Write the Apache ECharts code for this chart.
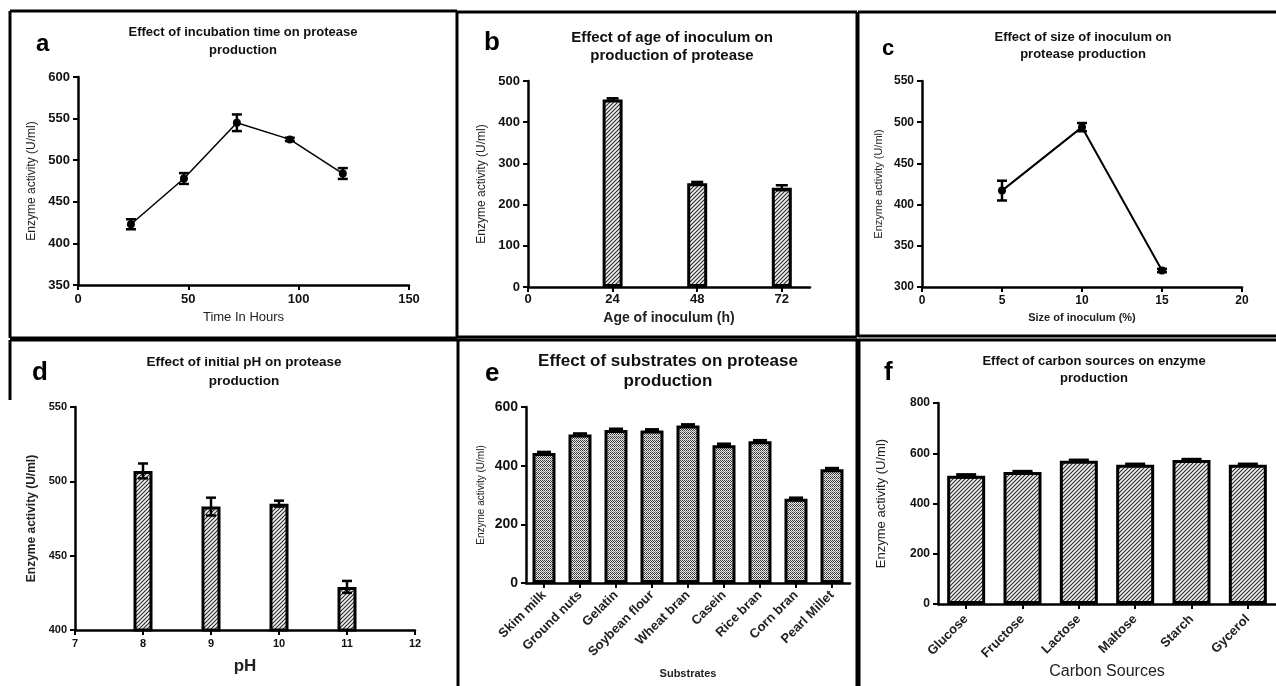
<!DOCTYPE html>
<html>
<head>
<meta charset="utf-8">
<script src="https://cdn.jsdelivr.net/npm/echarts@6/dist/echarts.min.js"></script>
<style>
  html, body { margin: 0; padding: 0; background: #fff; }
  #main { width: 1276px; height: 686px; }
</style>
</head>
<body>
<div id="main"></div>
<script>
// a - incubation time
const hoursX = [24, 48, 72, 96, 120];
const hoursY = [423, 478, 545, 525, 484];
const hoursErr = [6, 6.5, 10, 2, 6.5];
// b - age of inoculum
const ageX = [24, 48, 72];
const ageY = [455, 252, 241];
const ageErr = [3, 3, 6];
const ageTicks = [0, 24, 48, 72];
// c - size of inoculum
const sizeX = [5, 10, 15];
const sizeY = [417, 494, 320];
const sizeErr = [12, 5, 2];
// d - initial pH
const phX = [8, 9, 10, 11];
const phY = [507, 483, 485, 429];
const phErr = [5, 6, 2, 4];
// e - substrates
const substrates = ['Skim milk', 'Ground nuts', 'Gelatin', 'Soybean flour', 'Wheat bran', 'Casein', 'Rice bran', 'Corn bran', 'Pearl Millet'];
const substrateY = [443, 506, 522, 520, 537, 470, 483, 287, 388];
const substrateErr = [3, 3, 3, 3, 3, 4, 3, 3, 3];
// f - carbon sources
const carbons = ['Glucose', 'Fructose', 'Lactose', 'Maltose', 'Starch', 'Gycerol'];
const carbonY = [510, 525, 570, 554, 573, 554];
const carbonErr = [5, 3, 3, 3, 3, 3];

const FONT = "'Liberation Sans', Arial, sans-serif";

// fill patterns
function hatch () {
  const c = document.createElement('canvas');
  c.width = 4; c.height = 4;
  const g = c.getContext('2d');
  g.fillStyle = '#f2f2f2';
  g.fillRect(0, 0, 4, 4);
  g.strokeStyle = '#2a2a2a';
  g.lineWidth = 1.1;
  g.beginPath();
  g.moveTo(-1, 5); g.lineTo(5, -1);
  g.moveTo(-1, 1); g.lineTo(1, -1);
  g.moveTo(3, 5); g.lineTo(5, 3);
  g.stroke();
  return c;
}
function stipple () {
  const c = document.createElement('canvas');
  c.width = 4; c.height = 4;
  const g = c.getContext('2d');
  g.fillStyle = '#e6e6e6';
  g.fillRect(0, 0, 4, 4);
  g.fillStyle = '#3a3a3a';
  g.fillRect(0, 0, 1, 1); g.fillRect(2, 0, 1, 1);
  g.fillRect(1, 1, 1, 1); g.fillRect(3, 1, 1, 1);
  g.fillRect(0, 2, 1, 1); g.fillRect(2, 2, 1, 1);
  g.fillStyle = '#888';
  g.fillRect(1, 3, 1, 1); g.fillRect(3, 3, 1, 1);
  return c;
}
const hatchFill = { image: hatch(), repeat: 'repeat' };
const stippleFill = { image: stipple(), repeat: 'repeat' };

const grids = [
  { left: 78, top: 77, width: 331, height: 208 },
  { left: 528, top: 81, width: 282, height: 206 },
  { left: 922, top: 81, width: 320, height: 206 },
  { left: 75, top: 407, width: 340, height: 223 },
  { left: 526, top: 407, width: 324, height: 176 },
  { left: 938, top: 403, width: 342, height: 201 }
];

const axisLine = { lineStyle: { color: '#000', width: 2.5 } };
const axisTick = { length: 5, lineStyle: { color: '#000', width: 2 } };

function valAxis (gi, min, max, interval, labelSize, name, nameGap, nameStyle, extra) {
  return Object.assign({
    type: 'value', gridIndex: gi, min: min, max: max, interval: interval,
    axisLine: Object.assign({ show: true, onZero: false }, axisLine),
    axisTick: Object.assign({ show: true }, axisTick),
    splitLine: { show: false },
    axisLabel: { color: '#111', fontWeight: 'bold', fontSize: labelSize, fontFamily: FONT, margin: 8 },
    name: name, nameLocation: 'middle', nameGap: nameGap,
    nameTextStyle: Object.assign({ fontFamily: FONT, color: '#222' }, nameStyle)
  }, extra || {});
}
function catAxis (gi, data, fontSize, margin, name, nameGap, nameStyle) {
  return {
    type: 'category', gridIndex: gi, data: data,
    axisLine: Object.assign({ show: true, onZero: false }, axisLine),
    axisTick: Object.assign({ show: true, alignWithLabel: true }, axisTick),
    axisLabel: { interval: 0, rotate: 45, color: '#222', fontWeight: 'bold', fontSize: fontSize, fontFamily: FONT, margin: margin },
    name: name, nameLocation: 'middle', nameGap: nameGap,
    nameTextStyle: Object.assign({ fontFamily: FONT, color: '#222' }, nameStyle)
  };
}

function errorSeries (gi, xs, ys, errs, capW, lw) {
  return {
    type: 'custom', xAxisIndex: gi, yAxisIndex: gi, z: 10, clip: false,
    data: xs.map((x, i) => [x, ys[i] - errs[i], ys[i] + errs[i]]),
    renderItem (params, api) {
      const lo = api.coord([api.value(0), api.value(1)]);
      const hi = api.coord([api.value(0), api.value(2)]);
      const w = capW / 2;
      const style = { stroke: '#000', lineWidth: lw || 2.5 };
      return {
        type: 'group',
        children: [
          { type: 'line', shape: { x1: hi[0] - w, y1: hi[1], x2: hi[0] + w, y2: hi[1] }, style: style },
          { type: 'line', shape: { x1: hi[0], y1: hi[1], x2: lo[0], y2: lo[1] }, style: style },
          { type: 'line', shape: { x1: lo[0] - w, y1: lo[1], x2: lo[0] + w, y2: lo[1] }, style: style }
        ]
      };
    }
  };
}

function panelTitle (text, x, top, size, lh) {
  return {
    text: text, left: x, top: top, textAlign: 'center', padding: 0,
    textStyle: { fontFamily: FONT, fontWeight: 'bold', fontSize: size, lineHeight: lh, color: '#111' }
  };
}
function letter (t, x, y, size) {
  return { type: 'text', left: x, top: y, style: { text: t, font: 'bold ' + size + 'px ' + FONT, fill: '#000' } };
}
function line (x1, y1, x2, y2) {
  return { type: 'line', shape: { x1: x1, y1: y1, x2: x2, y2: y2 }, style: { stroke: '#000', lineWidth: 3 }, z: 100 };
}

const chart = echarts.init(document.getElementById('main'));
chart.setOption({
  animation: false,
  backgroundColor: '#fff',
  title: [
    panelTitle('Effect of incubation time on protease\nproduction', 243, 23, 13, 18),
    panelTitle('Effect of age of inoculum on\nproduction of protease', 672, 29, 15, 18),
    panelTitle('Effect of size of inoculum on\nprotease production', 1083, 29, 13, 17),
    panelTitle('Effect of initial pH on protease\nproduction', 244, 353, 13.5, 19),
    panelTitle('Effect of substrates on protease\nproduction', 668, 351, 17, 20),
    panelTitle('Effect of carbon sources on enzyme\nproduction', 1094, 353, 13, 17)
  ],
  grid: grids,
  xAxis: [
    valAxis(0, 0, 150, 50, 13, 'Time In Hours', 26, { fontSize: 13 }),
    valAxis(1, 0, 80, 24, 13, 'Age of inoculum (h)', 24, { fontSize: 14, fontWeight: 'bold' }, {
      axisLabel: { color: '#111', fontWeight: 'bold', fontSize: 13, fontFamily: FONT, margin: 6, customValues: ageTicks },
      axisTick: Object.assign({ show: true, customValues: ageTicks }, axisTick)
    }),
    valAxis(2, 0, 20, 5, 12, 'Size of inoculum (%)', 25, { fontSize: 11, fontWeight: 'bold' }),
    valAxis(3, 7, 12, 1, 11, 'pH', 28, { fontSize: 17, fontWeight: 'bold' }),
    catAxis(4, substrates, 13, 10, 'Substrates', 85, { fontSize: 11, fontWeight: 'bold' }),
    catAxis(5, carbons, 13, 13, 'Carbon Sources', 58, { fontSize: 16 })
  ],
  yAxis: [
    valAxis(0, 350, 600, 50, 13, 'Enzyme activity (U/ml)', 40, { fontSize: 12 }),
    valAxis(1, 0, 500, 100, 13, 'Enzyme activity (U/ml)', 40, { fontSize: 12 }),
    valAxis(2, 300, 550, 50, 12, 'Enzyme activity (U/ml)', 38, { fontSize: 11 }),
    valAxis(3, 400, 550, 50, 11, 'Enzyme activity (U/ml)', 37, { fontSize: 12, fontWeight: 'bold' }),
    valAxis(4, 0, 600, 200, 14, 'Enzyme activity (U/ml)', 40, { fontSize: 10 }),
    valAxis(5, 0, 800, 200, 12, 'Enzyme activity (U/ml)', 50, { fontSize: 13 })
  ],
  series: [
    {
      type: 'line', xAxisIndex: 0, yAxisIndex: 0,
      data: hoursX.map((x, i) => [x, hoursY[i]]),
      symbol: 'circle', symbolSize: 8,
      itemStyle: { color: '#000' }, lineStyle: { color: '#000', width: 1.5 }
    },
    errorSeries(0, hoursX, hoursY, hoursErr, 10),
    {
      type: 'bar', xAxisIndex: 1, yAxisIndex: 1, barWidth: 20,
      data: ageX.map((x, i) => [x, ageY[i]]),
      itemStyle: { color: hatchFill, borderColor: '#000', borderWidth: 3 }
    },
    errorSeries(1, ageX, ageY, ageErr, 12),
    {
      type: 'line', xAxisIndex: 2, yAxisIndex: 2,
      data: sizeX.map((x, i) => [x, sizeY[i]]),
      symbol: 'circle', symbolSize: 8,
      itemStyle: { color: '#000' }, lineStyle: { color: '#000', width: 2 }
    },
    errorSeries(2, sizeX, sizeY, sizeErr, 10),
    {
      type: 'bar', xAxisIndex: 3, yAxisIndex: 3, barWidth: 19, clip: true,
      data: phX.map((x, i) => [x, phY[i]]),
      itemStyle: { color: hatchFill, borderColor: '#000', borderWidth: 3 }
    },
    errorSeries(3, phX, phY, phErr, 10),
    {
      type: 'bar', xAxisIndex: 4, yAxisIndex: 4, barWidth: 23,
      data: substrateY,
      itemStyle: { color: stippleFill, borderColor: '#000', borderWidth: 3 }
    },
    errorSeries(4, substrates.map((s, i) => i), substrateY, substrateErr, 14, 3),
    {
      type: 'bar', xAxisIndex: 5, yAxisIndex: 5, barWidth: 38,
      data: carbonY,
      itemStyle: { color: hatchFill, borderColor: '#000', borderWidth: 3 }
    },
    errorSeries(5, carbons.map((s, i) => i), carbonY, carbonErr, 20, 3)
  ],
  graphic: [
    letter('a', 36, 32, 24),
    letter('b', 484, 30, 26),
    letter('c', 882, 38, 22),
    letter('d', 32, 360, 26),
    letter('e', 485, 361, 26),
    letter('f', 884, 360, 26),
    // panel frames
    line(10, 11, 457, 11), line(10, 11, 10, 338), line(10, 338, 457, 338), line(457, 11, 457, 338),
    line(457, 12, 857, 12), line(457, 337, 857, 337), line(857, 12, 857, 337),
    line(858, 12, 1276, 12), line(858, 12, 858, 336), line(858, 336, 1276, 336),
    line(10, 340, 1276, 340), line(10, 340, 10, 400),
    line(458, 340, 458, 686), line(857, 340, 857, 686), line(859, 340, 859, 686)
  ]
});
</script>
</body>
</html>
